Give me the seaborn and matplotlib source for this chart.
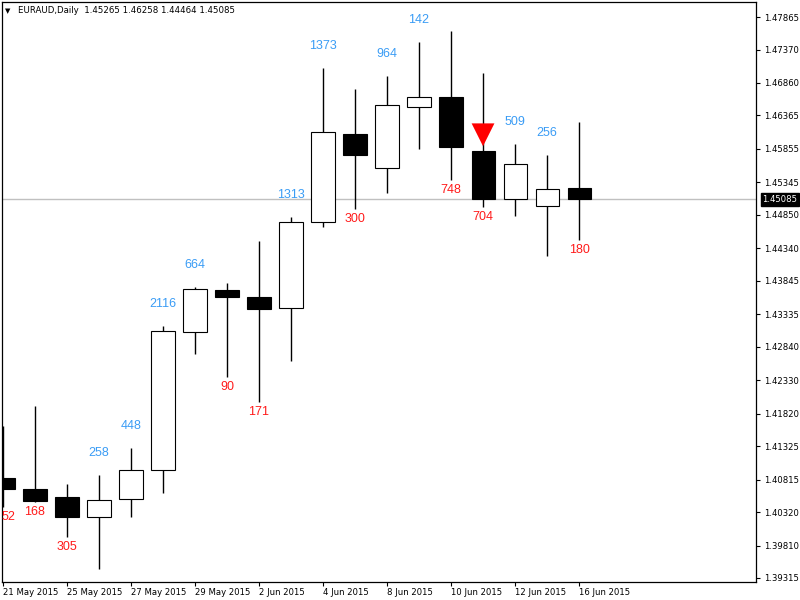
import matplotlib
matplotlib.use('Agg')
import matplotlib.pyplot as plt
import numpy as np
import pandas as pd
import seaborn as sns


# Daily EURAUD candles
dates = ['21 May 2015', '22 May 2015', '25 May 2015', '26 May 2015',
         '27 May 2015', '28 May 2015', '29 May 2015', '1 Jun 2015',
         '2 Jun 2015', '3 Jun 2015', '4 Jun 2015', '5 Jun 2015',
         '8 Jun 2015', '9 Jun 2015', '10 Jun 2015', '11 Jun 2015',
         '12 Jun 2015', '15 Jun 2015', '16 Jun 2015']
opens = [1.40839, 1.40672, 1.40550, 1.40245, 1.40519, 1.40961, 1.43064,
         1.43704, 1.43598, 1.43430, 1.44741, 1.46082, 1.45564, 1.46493,
         1.46646, 1.45823, 1.45091, 1.44985, 1.45265]
highs = [1.41632, 1.41937, 1.40748, 1.40885, 1.41297, 1.43156, 1.43750,
         1.43811, 1.44451, 1.44817, 1.47088, 1.46768, 1.46966, 1.47484,
         1.47652, 1.47012, 1.45930, 1.45762, 1.46258]
lows = [1.40397, 1.40474, 1.39940, 1.39453, 1.40245, 1.40611, 1.42729,
        1.42379, 1.41998, 1.42622, 1.44665, 1.44939, 1.45183, 1.45853,
        1.45381, 1.44969, 1.44832, 1.44223, 1.44464]
closes = [1.40672, 1.40489, 1.40245, 1.40504, 1.40961, 1.43080, 1.43720,
          1.43598, 1.43415, 1.44741, 1.46112, 1.45762, 1.46524, 1.46646,
          1.45884, 1.45091, 1.45625, 1.45244, 1.45085]
counts = ['52', '168', '305', '258', '448', '2116', '664', '90', '171',
          '1313', '1373', '300', '964', '142', '748', '704', '509', '256',
          '180']

# sell signal arrow
signal_idx = [15]
signal_price = [1.4607]

price_ticks = ['1.47865', '1.47370', '1.46860', '1.46365', '1.45855',
               '1.45345', '1.44850', '1.44340', '1.43845', '1.43335',
               '1.42840', '1.42330', '1.41820', '1.41325', '1.40815',
               '1.40320', '1.39810', '1.39315']

symbol = 'EURAUD,Daily'

df = pd.DataFrame({'date': dates, 'open': opens, 'high': highs,
                   'low': lows, 'close': closes, 'count': counts})
df['idx'] = np.arange(len(df))
df['bull'] = df['close'] > df['open']
df['bottom'] = df[['open', 'close']].min(axis=1)
df['height'] = (df['close'] - df['open']).abs()

sns.set_style('white')
plt.rcParams['font.family'] = ['DejaVu Sans']

fig = plt.figure(figsize=(8, 6), dpi=100)
ax = fig.add_axes([0.0025, 0.03, 0.9425, 0.96667])

last = closes[-1]
ax.axhline(last, color='#c0c0c0', lw=1, zorder=0.5)

# wicks then bodies
ax.vlines(df['idx'], df['low'], df['high'], color='black', lw=1, zorder=2)
ax.bar(df['idx'], df['height'], bottom=df['bottom'], width=0.72,
       color=np.where(df['bull'], 'white', 'black'), edgecolor='black',
       linewidth=0.8, zorder=3)

sig = pd.DataFrame({'x': signal_idx, 'y': signal_price})
sns.scatterplot(data=sig, x='x', y='y', marker='v', s=270, color='#ff0000',
                edgecolor='none', ax=ax, zorder=4, legend=False)

ax.set_xlim(-0.031, 23.53)
ax.set_ylim(1.39254, 1.48094)

labels = []
for _, r in df.iterrows():
    if r['bull']:
        t = ax.annotate(r['count'], xy=(r['idx'], r['high']), xytext=(0, 14),
                        textcoords='offset points', ha='center',
                        va='baseline', color='#3a9cf5', fontsize=9,
                        family='Liberation Sans')
    else:
        t = ax.annotate(r['count'], xy=(r['idx'], r['low']), xytext=(0, -9.5),
                        textcoords='offset points', ha='center',
                        va='baseline', color='#ff1a1a', fontsize=9,
                        family='Liberation Sans')
    labels.append(t)

# keep labels that fall off the left edge inside the chart
fig.canvas.draw()
ax_x0 = ax.get_window_extent().x0
for t in labels:
    bb = t.get_window_extent()
    if bb.x0 < ax_x0:
        t.xy = (ax.get_xlim()[0], t.xy[1])
        t.set_ha('left')

# axes cosmetics
for s in ax.spines.values():
    s.set_color('black')
    s.set_linewidth(0.9)

ax.yaxis.tick_right()
ax.set_yticks([float(v) for v in price_ticks])
ax.set_yticklabels(price_ticks)
ax.set_xticks(df['idx'][::2])
ax.set_xticklabels(df['date'][::2], ha='left')
ax.tick_params(axis='y', direction='out', length=3, width=0.8, pad=2.5,
               labelsize=6.1, colors='black', right=True, left=False)
ax.tick_params(axis='x', direction='out', length=3, width=0.8, pad=1.5,
               labelsize=6.1, colors='black', bottom=True)
ax.set_xlabel('')
ax.set_ylabel('')

# current price marker on the price scale
ax.annotate('%.5f' % last, xy=(1, last), xycoords=('axes fraction', 'data'),
            xytext=(4.5, 0), textcoords='offset points', ha='left',
            va='center', color='white', fontsize=6.1,
            bbox=dict(boxstyle='square,pad=0.2', fc='black', ec='black'))

ax.text(0.004, 0.9845, '\u25bc', transform=ax.transAxes, ha='left',
        va='center', fontsize=5, color='black')
ax.text(0.021, 0.9845,
        '%s  %.5f %.5f %.5f %.5f' % (symbol, opens[-1], highs[-1],
                                     lows[-1], closes[-1]),
        transform=ax.transAxes, ha='left', va='center', fontsize=6.2,
        color='black')

fig.savefig('out.png', dpi=100)
